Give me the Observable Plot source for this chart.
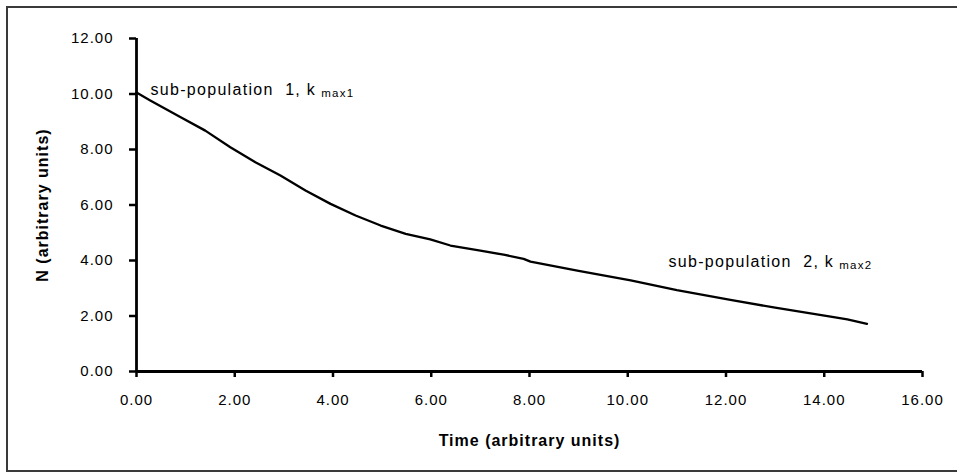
<!DOCTYPE html>
<html>
<head>
<meta charset="utf-8">
<script src="https://cdn.jsdelivr.net/npm/d3@7"></script>
<script src="https://cdn.jsdelivr.net/npm/@observablehq/plot@0.6"></script>
<style>
  html, body { margin: 0; padding: 0; background: #fff; overflow: hidden; }
  #wrap { position: relative; width: 957px; height: 472px; }
  #box { position: absolute; left: 6px; top: 6px; width: 1000px; height: 462px;
         border-left: 2px solid #3a3a3a; border-top: 2px solid #3a3a3a; border-bottom: 2px solid #3a3a3a; }
  #chart { position: absolute; left: 0; top: 0; }
</style>
</head>
<body>
<div id="wrap"><div id="box"></div><div id="chart"></div></div>
<script>
const time = [0, 0.28, 0.9, 1.4, 1.91, 2.42, 2.93, 3.44, 3.95, 4.46, 4.97, 5.48, 5.98, 6.39, 7.0, 7.5, 7.88, 8.02, 9.0, 10.06, 11.0, 12.09, 13.0, 14.13, 14.47, 14.87];
const nValues = [10.05, 9.77, 9.16, 8.68, 8.08, 7.54, 7.06, 6.52, 6.04, 5.62, 5.26, 4.96, 4.76, 4.54, 4.36, 4.2, 4.06, 3.96, 3.63, 3.28, 2.93, 2.58, 2.3, 1.98, 1.88, 1.72];
const xTicks = [0, 2, 4, 6, 8, 10, 12, 14, 16];
const yTicks = [0, 2, 4, 6, 8, 10, 12];
const xTitle = "Time (arbitrary units)";
const yTitle = "N (arbitrary units)";
const labelTexts = ["sub-population\u00a0 1, k", "sub-population\u00a0 2, k"];
const labelSubs = ["max1", "max2"];
const labelX = [0.285, 10.83];
const labelY = [10.16, 3.96];

const data = time.map((t, i) => ({t, n: nValues[i]}));
const labels = labelTexts.map((s, i) => ({s, x: labelX[i], y: labelY[i], sub: labelSubs[i]}));

const fmt = d3.format(".2f");
const plot = Plot.plot({
  width: 957,
  height: 472,
  marginLeft: 136,
  marginRight: 35,
  marginTop: 38,
  marginBottom: 101,
  style: {fontFamily: "'Liberation Sans', Arial, sans-serif", fontSize: "15px", color: "#000", letterSpacing: "1px", background: "transparent"},
  x: {domain: [0, 16]},
  y: {domain: [0, 12]},
  marks: [
    Plot.axisX({ticks: xTicks, tickFormat: fmt, tickSize: 6, tickPadding: 17, strokeWidth: 2.5, strokeOpacity: 1,
      label: xTitle, labelArrow: "none", labelAnchor: "center", labelOffset: 74}),
    Plot.axisY({ticks: yTicks, tickFormat: fmt, tickSize: 7, tickPadding: 16, strokeWidth: 2.5, strokeOpacity: 1,
      label: yTitle, labelArrow: "none", labelAnchor: "center", labelOffset: 100}),
    Plot.ruleY([0], {stroke: "#000", strokeWidth: 2.8}),
    Plot.ruleX([0], {stroke: "#000", strokeWidth: 2.8}),
    Plot.line(data, {x: "t", y: "n", stroke: "#000", strokeWidth: 2.3}),
    Plot.text(labels, {x: "x", y: "y", text: "s", textAnchor: "start", lineAnchor: "middle", fill: "#000", fontSize: 16, className: "sublabel"})
  ]
});
document.getElementById("chart").appendChild(plot);

const svg = d3.select(plot);
svg.selectAll("[aria-label='x-axis label'] text, [aria-label='y-axis label'] text")
  .style("font-weight", "bold").style("font-size", "16px")
  .text(function() { return this.textContent.replace(/\s*[→↑←↓]\s*/g, ""); });
svg.selectAll(".sublabel text").each(function() {
  const idx = labelTexts.indexOf(this.textContent);
  d3.select(this).style("letter-spacing", "1.3px");
  d3.select(this).append("tspan").attr("font-size", "11.5px").attr("dx", "5").attr("dy", "2").text(labelSubs[idx]);
});
</script>
</body>
</html>
